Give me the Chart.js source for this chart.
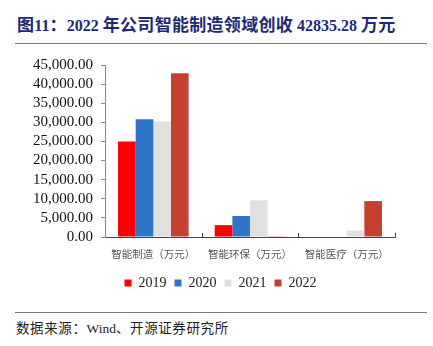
<!DOCTYPE html>
<html>
<head>
<meta charset="utf-8">
<script src="https://cdn.jsdelivr.net/npm/chart.js@4.4.0/dist/chart.umd.min.js"></script>
<style>
  body { margin: 0; background: #fff; width: 433px; height: 346px; position: relative; overflow: hidden; }
  #title { position: absolute; left: 17px; top: 11px; font: bold 16px "Liberation Serif", serif; color: #1d2a72; white-space: nowrap; }
  #title .c { font-family: "Noto Sans CJK SC"; font-size: 17px; letter-spacing: 0.3px; }
  .rule { position: absolute; left: 15px; width: 412px; height: 1px; background: #7a7a7a; }
  #source { position: absolute; left: 16px; top: 317px; font: 13.5px "Liberation Serif", serif; color: #222; white-space: nowrap; }
  #source .c { font-family: "Noto Sans CJK SC"; font-size: 13.5px; letter-spacing: 0.6px; }
  #wrap { position: absolute; left: 0; top: 48px; width: 433px; height: 252px; }
</style>
</head>
<body>
<div id="title"><span class="c">图</span>11<span class="c">：</span>2022 <span class="c">年公司智能制造领域创收</span> 42835.28 <span class="c">万元</span></div>
<div class="rule" style="top:43px"></div>
<div id="wrap"><canvas id="chart"></canvas></div>
<div class="rule" style="top:312px"></div>
<div id="source"><span class="c">数据来源：</span>Wind<span class="c">、开源证券研究所</span></div>
<script>
const categories = ["智能制造（万元）", "智能环保（万元）", "智能医疗（万元）"];
const years = ["2019", "2020", "2021", "2022"];
const v2019 = [25000, 3100, 0];
const v2020 = [30800, 5500, 0];
const v2021 = [30200, 9600, 1700];
const v2022 = [42835.28, 200, 9400];
const yTicks = [0, 5000, 10000, 15000, 20000, 25000, 30000, 35000, 40000, 45000];
const colors = ["#ff0000", "#2f74c7", "#e0e0e0", "#c5402f"];

const series = [v2019, v2020, v2021, v2022];

// small upward ticks on the x axis, at the category boundaries
const xTicksUp = {
  id: "xTicksUp",
  afterDraw(chart) {
    const x = chart.scales.x, ctx = chart.ctx;
    const y = x.top;
    ctx.save();
    ctx.strokeStyle = "#444";
    ctx.lineWidth = 1;
    for (let i = 1; i <= categories.length; i++) {
      const px = Math.round(x.getPixelForValue(i - 0.5)) + 0.5;
      ctx.beginPath();
      ctx.moveTo(px, y);
      ctx.lineTo(px, y - 4);
      ctx.stroke();
    }
    ctx.restore();
  }
};

// legend sits a bit right of the canvas centre in the original
const legendShift = {
  id: "legendShift",
  afterLayout(chart) {
    chart.legend.left += 23;
    chart.legend.right += 23;
  }
};

new Chart(document.getElementById("chart"), {
  type: "bar",
  data: {
    labels: categories,
    datasets: series.map((d, i) => ({
      label: years[i],
      data: d,
      backgroundColor: colors[i],
      categoryPercentage: 0.73,
      barPercentage: 1.0
    }))
  },
  options: {
    responsive: true,
    maintainAspectRatio: false,
    animation: false,
    layout: { padding: { left: 0, right: 38, top: 9, bottom: 0 } },
    plugins: {
      legend: {
        position: "bottom",
        labels: {
          usePointStyle: true,
          pointStyle: "rect",
          boxWidth: 7,
          boxHeight: 7,
          padding: 8,
          color: "#222",
          font: { family: "Liberation Serif", size: 14 }
        }
      },
      tooltip: { enabled: false }
    },
    scales: {
      x: {
        afterFit: s => { s.height = 31; },
        grid: { display: false },
        border: { color: "#444" },
        ticks: { color: "#555", font: { family: "Noto Sans CJK SC", size: 10.5 }, padding: 3 }
      },
      y: {
        min: 0,
        max: 45000,
        afterFit: s => { s.width = 105; },
        afterBuildTicks: s => { s.ticks = yTicks.map(v => ({ value: v })); },
        grid: { display: true, drawOnChartArea: false, drawTicks: true, tickLength: 4, color: "#888" },
        border: { color: "#888" },
        ticks: {
          autoSkip: false,
          color: "#111",
          padding: 8,
          font: { family: "Liberation Serif", size: 15 },
          callback: v => v.toLocaleString("en-US", { minimumFractionDigits: 2, maximumFractionDigits: 2 })
        }
      }
    }
  },
  plugins: [xTicksUp, legendShift]
});
</script>
</body>
</html>
